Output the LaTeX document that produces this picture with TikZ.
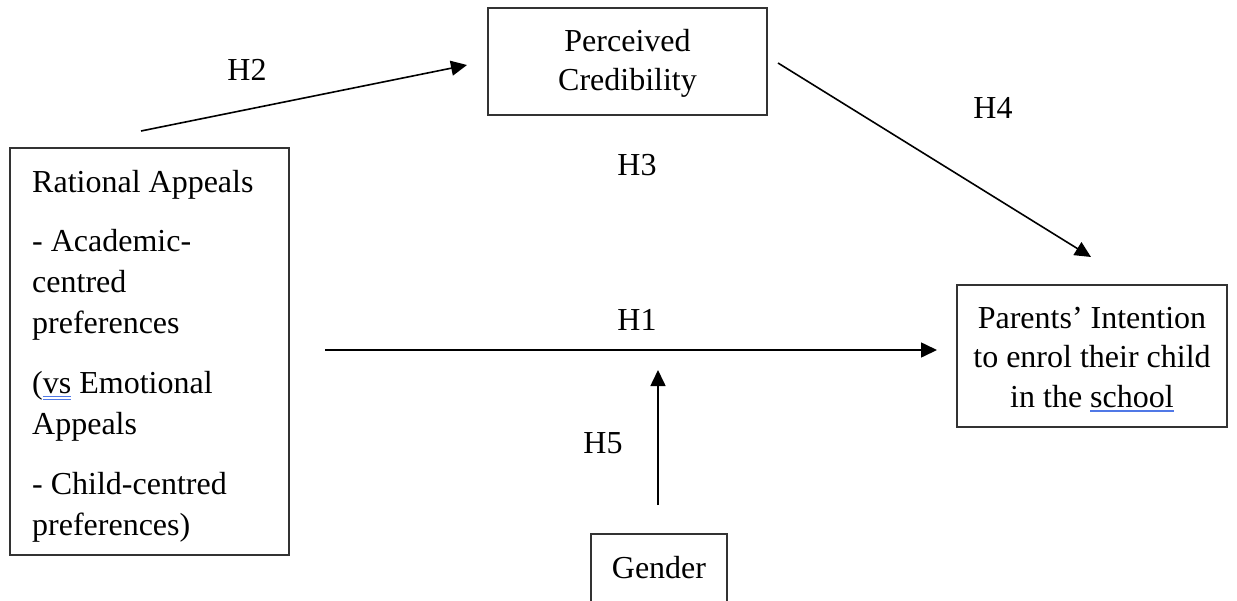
\documentclass[tikz,border=0pt]{standalone}
\usepackage{fontspec}
\setmainfont{Liberation Serif}
\usetikzlibrary{arrows.meta}
\definecolor{spell}{RGB}{80,120,230}
\newcommand\dblu[1]{\setbox0\hbox{#1}\rlap{\color{spell}\rule[-4pt]{\wd0}{0.9pt}}\rlap{\color{spell}\rule[-7pt]{\wd0}{0.9pt}}\box0\relax}
\newcommand\sglu[1]{\setbox0\hbox{#1}\rlap{\color{spell}\rule[-5pt]{\wd0}{1.6pt}}\box0\relax}
\begin{document}
\begin{tikzpicture}[x=1pt,y=-1pt,
  box/.style={draw=black!80,line width=1.3pt,rectangle,inner sep=0pt},
  txt/.style={font=\fontsize{32}{40}\selectfont,inner sep=0pt},
  conn/.style={line width=1.6pt,-{Triangle[length=16pt,width=15pt]}},
  lbl/.style={font=\fontsize{32}{40}\selectfont,inner sep=0pt,anchor=center}]
\useasboundingbox (0,0) rectangle (1237,600);
\fill[white] (0,0) rectangle (1237,600);
% boxes
\node[box,minimum width=279pt,minimum height=407pt] (ra) at (149.5,351.5) {};
\node[box,minimum width=279pt,minimum height=107pt] (pc) at (627.5,61.5) {};
\node[box,minimum width=270pt,minimum height=142pt] (pi) at (1092,356) {};
\node[box,minimum width=136pt,minimum height=76pt] (ge) at (659,572) {};
% texts (base anchor = baseline of last line)
\node[txt,anchor=base west,align=left,font=\fontsize{32}{41}\selectfont] (ratext) at (32,535) {%
Rational Appeals\\[18pt]
- Academic-\\
centred\\
preferences\\[19pt]
(\dblu{vs} Emotional\\
Appeals\\[19pt]
- Child-centred\\
preferences)};
\node[txt,anchor=base,align=center,font=\fontsize{32}{39}\selectfont] (pctext) at (627.5,90) {Perceived\\Credibility};
\node[txt,anchor=base,align=center,font=\fontsize{32}{39.5}\selectfont] (pitext) at (1092,407) {Parents’ Intention\\to enrol their child\\in the \sglu{school}};
\node[txt,anchor=base] (getext) at (659,578) {Gender};
% connector end points
\coordinate (h2s) at (141,131);
\coordinate (h2e) at (467,65);
\coordinate (h4s) at (778,63);
\coordinate (h4e) at (1091,257);
\coordinate (h1s) at (325,350);
\coordinate (h1e) at (937,350);
\coordinate (h5s) at (658,505);
\coordinate (h5e) at (658,370);
\draw[conn] (h2s) -- (h2e);
\draw[conn] (h4s) -- (h4e);
\draw[conn] (h1s) -- (h1e);
\draw[conn] (h5s) -- (h5e);
% labels
\node[lbl] (lh2) at (247,70) {H2};
\node[lbl] (lh3) at (637,165) {H3};
\node[lbl] (lh4) at (993,108) {H4};
\node[lbl] (lh1) at (637,320) {H1};
\node[lbl] (lh5) at (603,443) {H5};
\end{tikzpicture}
\end{document}
